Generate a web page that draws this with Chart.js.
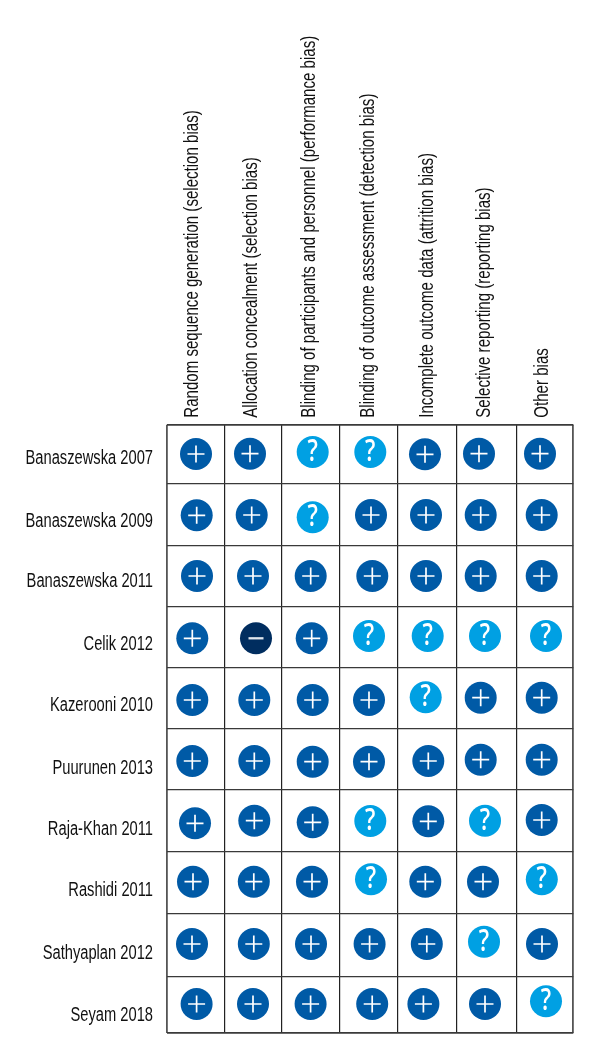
<!DOCTYPE html>
<html><head><meta charset="utf-8"><style>html,body{margin:0;padding:0;background:#fff}#w{width:600px;height:1060px}</style>
<script src="https://cdn.jsdelivr.net/npm/chart.js@4"></script></head><body><div id="w"><canvas id="c"></canvas></div>
<script>
const domains=["Random sequence generation (selection bias)","Allocation concealment (selection bias)","Blinding of participants and personnel (performance bias)","Blinding of outcome assessment (detection bias)","Incomplete outcome data (attrition bias)","Selective reporting (reporting bias)","Other bias"];
const studies=["Banaszewska 2007","Banaszewska 2009","Banaszewska 2011","Celik 2012","Kazerooni 2010","Puurunen 2013","Raja-Khan 2011","Rashidi 2011","Sathyaplan 2012","Seyam 2018"];
const judgments=["+ + ? ? + + +","+ + ? + + + +","+ + + + + + +","+ - + ? ? ? ?","+ + + + ? + +","+ + + + + + +","+ + + ? + ? +","+ + + ? + + ?","+ + + + + ? +","+ + + + + + ?"];
const colEdges=[167,224.7,281.3,339.7,398,457,516.3,573.3];
const rowEdges=[424.7,483.7,545.7,607,667.5,728.5,790,851.7,913.3,976.3,1033];
const colLabelPos=[217,275.5,334,392.5,451.5,509,567];
const rowLabelPos=[458,521,581,644,705,768,829,890,953,1015];
const markX=[[196,250,312.7,370.3,425,479,540],[196.7,251.7,312.7,371,426,480.7,541.7],[197,253,310.7,372.3,426,480.7,541.7],[192.3,256,311.7,369,427.7,485,546],[192.3,254.3,312.7,369,425.7,480.7,541.7],[192.3,254.3,312.7,369,428.3,480.7,541.7],[195,254.3,312.7,370.3,428.3,485,541.7],[193,253.8,312,371,425.3,483,541.8],[192,253.8,311,369.6,426.8,484,542],[196.6,253,310.6,372.2,423.4,485,546]];
const markY=[[454,453.7,452,452,454.3,453.7,453.7],[515.3,515,517.3,515,515,515,515],[576,576,576,576,576,576,576],[638.3,638.3,638.3,636,636,636,636],[700,700,700,700,697.3,697.7,697.7],[761,761,761.7,761.7,761,759.7,759.7],[823.3,820.7,822.3,821,821.3,820.7,820],[881.7,881.7,881.7,879.3,881.7,881.7,879.3],[944,944,944,944,944,941.7,944],[1004,1004,1004,1004,1004,1004,1001.3]];
const kinds={"+":{label:"Low risk",color:"#005aa6"},"?":{label:"Unclear risk",color:"#00a0e3"},"-":{label:"High risk",color:"#002d5f"}};
const datasets=Object.keys(kinds).map(k=>({label:kinds[k].label,kind:k,backgroundColor:kinds[k].color,borderWidth:0,pointRadius:16,pointHoverRadius:16,data:[]}));
judgments.forEach((row,r)=>row.split(" ").forEach((k,c)=>datasets.find(d=>d.kind===k).data.push({x:markX[r][c],y:markY[r][c]})));
const glyphs={id:"glyphs",afterDatasetsDraw(chart){const g=chart.ctx;g.save();g.strokeStyle="#fff";g.fillStyle="#fff";
 chart.data.datasets.forEach((d,i)=>chart.getDatasetMeta(i).data.forEach(p=>{
  if(d.kind==="?"){g.font="600 31px 'Open Sans'";g.textAlign="center";g.textBaseline="middle";g.fillText("?",p.x,p.y);}
  else if(d.kind==="+"){g.lineWidth=1.7;g.beginPath();g.moveTo(p.x-8.5,p.y);g.lineTo(p.x+8.5,p.y);g.moveTo(p.x,p.y-8.5);g.lineTo(p.x,p.y+8.5);g.stroke();}
  else{g.strokeStyle="#dfe6ee";g.lineWidth=2.3;g.beginPath();g.moveTo(p.x-7.5,p.y);g.lineTo(p.x+7.5,p.y);g.stroke();g.strokeStyle="#fff";}
 }));g.restore();}};
const font={family:"'Liberation Sans'",size:20};
const topFont={family:"'Liberation Sans'",size:20.5};
const edgeW=list=>ctx=>ctx.index===0||ctx.index===list.length-1?1.8:1.2;
const canvas=document.getElementById("c");
// The reference uses a condensed typeface: draw every label narrower along its own reading direction.
const c2=canvas.getContext("2d"),nativeFill=c2.fillText.bind(c2);
c2.fillText=function(t,x,y,m){c2.save();c2.translate(x,y);c2.scale(0.735,1);nativeFill(t,0,0);c2.restore();};
new Chart(canvas,{type:"scatter",data:{datasets},plugins:[glyphs],options:{
 responsive:true,maintainAspectRatio:false,animation:false,
 layout:{padding:{left:0,top:0,right:600-573.3,bottom:1060-1033}},
 plugins:{legend:{display:false},tooltip:{enabled:false}},
 scales:{
  x:{type:"linear",min:colEdges[0],max:colEdges[7],position:"bottom",afterBuildTicks:s=>{s.ticks=colEdges.map(v=>({value:v}))},afterFit:s=>{s.height=0},
     grid:{color:c=>c.index===0||c.index===7?"#555":"#222",lineWidth:edgeW(colEdges),drawTicks:false},border:{display:false},ticks:{display:false}},
  xTop:{type:"linear",min:colEdges[0],max:colEdges[7],position:"top",afterBuildTicks:s=>{s.ticks=colLabelPos.map(v=>({value:v}))},afterFit:s=>{s.height=424.7;s.paddingLeft=0;s.paddingRight=0},
     grid:{display:false},border:{display:false},ticks:{autoSkip:false,minRotation:90,maxRotation:90,padding:-1,color:"#111",font:topFont,callback:(v,i)=>domains[i]}},
  y:{type:"linear",min:rowEdges[0],max:rowEdges[10],reverse:true,position:"left",afterBuildTicks:s=>{s.ticks=rowEdges.map(v=>({value:v}))},afterFit:s=>{s.width=0},
     grid:{color:"#3a3a3a",lineWidth:edgeW(rowEdges),drawTicks:false},border:{display:false},ticks:{display:false}},
  yLab:{type:"linear",min:rowEdges[0],max:rowEdges[10],reverse:true,position:"left",afterBuildTicks:s=>{s.ticks=rowLabelPos.map(v=>({value:v}))},afterFit:s=>{s.width=167;s.paddingTop=0;s.paddingBottom=0},
     grid:{display:false},border:{display:false},ticks:{autoSkip:false,padding:6,color:"#111",font,callback:(v,i)=>studies[i]}}
 }}});
</script></body></html>
